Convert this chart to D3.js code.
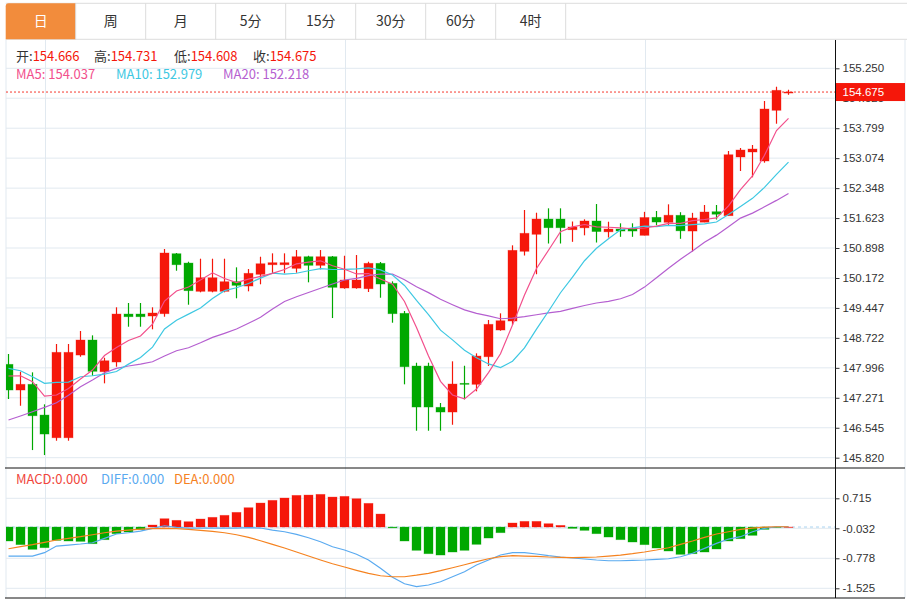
<!DOCTYPE html>
<html lang="zh">
<head>
<meta charset="UTF-8">
<title>日K</title>
<script src="https://d3js.org/d3.v7.min.js"></script>
<style>
  body { margin: 0; background: #fff; }
  svg { display: block; }
</style>
</head>
<body>
<div id="chart"></div>
<script>
// ---- data ----
const tabs = ["日", "周", "月", "5分", "15分", "30分", "60分", "4时"];

const opens = [148.081,147.459,147.597,146.853,146.303,146.303,148.306,148.670,147.902,148.137,
  149.299,149.299,149.251,149.307,150.760,150.534,149.849,149.849,149.849,150.082,
  149.977,150.261,150.493,150.493,150.406,150.687,150.479,150.687,149.929,149.929,
  149.912,150.527,150.043,149.316,148.040,148.040,147.040,146.926,147.621,147.597,
  148.265,148.912,149.130,150.818,151.230,151.600,151.600,151.341,151.387,151.552,
  151.290,151.358,151.358,151.205,151.641,151.520,151.690,151.309,151.523,151.777,
  151.680,153.102,153.223,153.005,154.233,154.666];
const highs = [148.331,147.902,147.887,147.112,148.573,148.573,148.888,148.783,148.241,149.462,
  149.566,149.566,149.462,150.874,150.777,150.566,150.639,150.639,150.639,150.430,
  150.389,150.687,150.769,150.769,150.849,150.711,150.849,150.704,150.711,150.728,
  150.566,150.559,150.091,149.372,148.120,148.120,147.144,148.154,148.047,148.347,
  149.154,149.316,150.963,151.818,151.753,151.859,151.859,151.540,151.593,151.963,
  151.535,151.496,151.496,151.774,151.794,151.956,151.765,151.750,151.939,151.939,
  153.247,153.320,153.392,154.458,154.804,154.731];
const lows = [147.241,147.078,146.005,145.884,146.231,146.231,148.265,147.805,147.621,148.023,
  148.992,148.992,148.929,149.234,150.348,149.525,149.825,149.825,149.825,149.680,
  149.849,150.019,150.285,150.285,150.300,150.067,150.382,149.202,149.912,149.912,
  149.832,149.694,149.089,147.597,146.473,146.473,146.473,146.618,147.233,147.427,
  148.040,148.895,149.033,150.716,150.263,151.007,151.007,151.048,151.205,151.031,
  151.152,151.169,151.169,151.205,151.448,151.443,151.121,150.813,151.523,151.588,
  151.680,152.763,152.610,152.964,153.908,154.608];
const closes = [147.459,147.597,146.836,146.393,148.372,148.372,148.670,147.912,148.168,149.299,
  149.234,149.234,149.324,150.777,150.493,149.864,150.178,150.178,150.082,149.994,
  150.285,150.517,150.542,150.542,150.687,150.479,150.687,149.946,150.123,150.123,
  150.527,150.026,149.307,148.023,147.047,147.047,146.926,147.604,147.597,148.282,
  149.050,149.137,150.842,151.254,151.600,151.389,151.389,151.406,151.552,151.297,
  151.358,151.309,151.309,151.636,151.527,151.692,151.314,151.624,151.770,151.716,
  153.157,153.271,153.295,154.264,154.717,154.675];

const ma5 = [147.798,147.805,147.660,147.313,147.338,147.495,147.727,147.943,148.294,148.488,
  148.657,148.766,149.052,149.614,149.856,149.953,150.123,150.297,150.159,150.060,
  150.145,150.212,150.285,150.377,150.515,150.554,150.588,150.469,150.384,150.270,
  150.280,150.149,150.021,149.602,148.972,148.282,147.669,147.338,147.243,147.483,
  147.882,148.338,149.033,149.759,150.401,150.844,151.295,151.409,151.467,151.409,
  151.401,151.385,151.365,151.382,151.428,151.496,151.496,151.559,151.588,151.627,
  151.917,152.310,152.642,153.143,153.741,154.037];
const ma10 = [147.984,147.926,147.781,147.621,147.645,147.652,147.781,147.805,147.846,147.907,
  148.086,148.248,148.498,148.936,149.149,149.297,149.447,149.675,149.866,149.936,
  150.040,150.169,150.290,150.268,150.287,150.348,150.399,150.377,150.379,150.394,
  150.418,150.367,150.244,149.992,149.629,149.285,148.909,148.674,148.423,148.238,
  148.091,148.001,148.156,148.478,148.934,149.367,149.815,150.195,150.590,150.893,
  151.123,151.341,151.387,151.426,151.418,151.448,151.440,151.462,151.484,151.527,
  151.707,151.903,152.101,152.365,152.683,152.979];
const ma20 = [146.732,146.829,146.933,147.040,147.151,147.330,147.539,147.701,147.878,147.984,
  148.040,148.088,148.144,148.282,148.410,148.483,148.604,148.735,148.832,148.936,
  149.074,149.219,149.420,149.602,149.718,149.822,149.924,150.026,150.123,150.164,
  150.229,150.268,150.268,150.130,149.958,149.818,149.655,149.525,149.401,149.316,
  149.253,149.185,149.200,149.236,149.282,149.326,149.362,149.435,149.505,149.566,
  149.607,149.670,149.772,149.951,150.176,150.409,150.626,150.828,151.038,151.210,
  151.414,151.622,151.743,151.896,152.051,152.218];

const macdBars = [-0.348,-0.438,-0.555,-0.514,-0.332,-0.348,-0.357,-0.415,-0.315,-0.166,
  -0.124,-0.066,0.050,0.207,0.166,0.133,0.199,0.241,0.291,0.365,
  0.481,0.597,0.664,0.722,0.788,0.796,0.813,0.746,0.763,0.705,
  0.589,0.323,-0.020,-0.348,-0.580,-0.664,-0.697,-0.622,-0.580,-0.431,
  -0.274,-0.141,0.100,0.141,0.141,0.083,0.041,-0.033,-0.083,-0.166,
  -0.249,-0.315,-0.373,-0.439,-0.523,-0.597,-0.680,-0.664,-0.622,-0.547,
  -0.348,-0.290,-0.207,-0.058,-0.010,0.000];
const diffLine = [-0.722,-0.722,-0.722,-0.639,-0.473,-0.448,-0.423,-0.391,-0.281,-0.174,
  -0.142,-0.100,-0.032,0.032,-0.007,-0.025,-0.025,-0.025,-0.025,-0.025,
  -0.017,-0.025,-0.075,-0.117,-0.182,-0.266,-0.366,-0.490,-0.572,-0.679,
  -0.821,-1.028,-1.252,-1.413,-1.485,-1.443,-1.361,-1.237,-1.112,-0.946,
  -0.821,-0.697,-0.639,-0.639,-0.672,-0.714,-0.746,-0.771,-0.796,-0.821,
  -0.839,-0.839,-0.829,-0.821,-0.804,-0.789,-0.739,-0.654,-0.530,-0.406,
  -0.299,-0.241,-0.117,-0.032,0.007,0.007];
const deaLine = [-0.540,-0.490,-0.440,-0.381,-0.323,-0.281,-0.241,-0.192,-0.142,-0.100,
  -0.075,-0.050,-0.042,-0.032,-0.042,-0.057,-0.082,-0.107,-0.142,-0.192,
  -0.256,-0.341,-0.430,-0.523,-0.622,-0.722,-0.821,-0.913,-0.995,-1.077,
  -1.152,-1.212,-1.237,-1.237,-1.199,-1.152,-1.087,-1.013,-0.938,-0.863,
  -0.789,-0.739,-0.714,-0.722,-0.729,-0.746,-0.754,-0.764,-0.754,-0.746,
  -0.722,-0.697,-0.664,-0.622,-0.572,-0.515,-0.430,-0.348,-0.256,-0.174,
  -0.117,-0.057,-0.025,0.000,0.007,0.007];
const macdLegend = [0, 0, 0];

const priceTicks = ["145.820","146.545","147.271","147.996","148.722","149.447","150.172",
  "150.898","151.623","152.348","153.074","153.799","154.525","155.250"];
const macdTicks = ["0.715","-0.032","-0.778","-1.525"];
const gridCandles = [3, 28, 53];

// ---- layout ----
const W = 908, H = 600;
const left = 6, axisX = 835, rightEdge = 905;
const mainTop = 40, mainBottom = 468, subBottom = 598;
const UP = "#f5170a", DOWN = "#00a800";
const GRID = "#e1e9f0";
const CJK = "'Noto Sans CJK SC', 'Noto Sans', sans-serif";
const NUM = "'Liberation Sans', Arial, sans-serif";

const N = closes.length;
const x = d3.scaleLinear().domain([0, N - 1]).range([8.5, 788.5]);
const y = d3.scaleLinear().domain([+priceTicks[0], +priceTicks[priceTicks.length - 1]]).range([457.7, 68.3]);
const ym = d3.scaleLinear().domain([+macdTicks[3], +macdTicks[0]]).range([588.3, 498.3]);
const bodyW = 9;

const svg = d3.select("#chart").append("svg").attr("width", W).attr("height", H);
const defs = svg.append("defs");
defs.append("clipPath").attr("id", "clipMain").append("rect")
  .attr("x", left).attr("y", mainTop).attr("width", axisX - left).attr("height", mainBottom - mainTop);
defs.append("clipPath").attr("id", "clipSub").append("rect")
  .attr("x", left).attr("y", mainBottom).attr("width", axisX - left).attr("height", subBottom - mainBottom);

// ---- tab bar ----
const tabX = 5.7, tabW = 70, tabTop = 3.3, tabBottom = 39.3;
const tabG = svg.append("g");
tabG.append("line").attr("x1", tabX).attr("x2", W - 1).attr("y1", tabTop).attr("y2", tabTop).attr("stroke", "#dcdcdc");
tabG.append("line").attr("x1", tabX).attr("x2", W - 1).attr("y1", tabBottom).attr("y2", tabBottom).attr("stroke", "#dcdcdc");
tabs.forEach((t, k) => {
  const x0 = tabX + k * tabW;
  if (k === 0) {
    tabG.append("path")
      .attr("d", `M${x0},${tabBottom} V${tabTop + 3} Q${x0},${tabTop} ${x0 + 3},${tabTop} H${x0 + tabW} V${tabBottom} Z`)
      .attr("fill", "#f28c3c");
  }
  tabG.append("line").attr("x1", x0 + tabW).attr("x2", x0 + tabW).attr("y1", tabTop).attr("y2", tabBottom).attr("stroke", "#dcdcdc");
  tabG.append("text").attr("x", x0 + tabW / 2).attr("y", 26)
    .attr("text-anchor", "middle").attr("font-family", CJK).attr("font-size", 14)
    .attr("fill", k === 0 ? "#fff" : "#333").text(t);
});

// ---- grids ----
const grid = svg.append("g");
grid.append("line").attr("x1", left).attr("x2", left).attr("y1", mainTop).attr("y2", subBottom).attr("stroke", GRID);
grid.append("line").attr("x1", rightEdge).attr("x2", rightEdge).attr("y1", mainTop).attr("y2", subBottom).attr("stroke", GRID);
grid.selectAll(".hg").data(priceTicks).join("line")
  .attr("x1", left).attr("x2", axisX).attr("y1", d => y(+d)).attr("y2", d => y(+d)).attr("stroke", GRID);
grid.selectAll(".mg").data(macdTicks).join("line")
  .attr("x1", left).attr("x2", axisX).attr("y1", d => ym(+d)).attr("y2", d => ym(+d)).attr("stroke", GRID);
grid.selectAll(".vg").data(gridCandles).join("line")
  .attr("x1", d => Math.round(x(d)) + 0.5).attr("x2", d => Math.round(x(d)) + 0.5)
  .attr("y1", mainTop).attr("y2", subBottom).attr("stroke", GRID);

// ---- candles ----
const candles = d3.range(N).map(i => ({ i, o: opens[i], h: highs[i], l: lows[i], c: closes[i] }));
const cg = svg.append("g").attr("clip-path", "url(#clipMain)");
const col = d => d.c >= d.o ? UP : DOWN;
cg.selectAll(".wick").data(candles).join("line")
  .attr("x1", d => x(d.i)).attr("x2", d => x(d.i))
  .attr("y1", d => y(d.h)).attr("y2", d => y(d.l))
  .attr("stroke", col).attr("stroke-width", 1.2);
cg.selectAll(".body").data(candles).join("rect")
  .attr("x", d => x(d.i) - bodyW / 2).attr("width", bodyW)
  .attr("y", d => y(Math.max(d.o, d.c)))
  .attr("height", d => Math.max(1, Math.abs(y(d.o) - y(d.c))))
  .attr("fill", col).attr("stroke", col).attr("stroke-opacity", 0.45).attr("stroke-width", 0.8);

// ---- moving averages ----
const line = d3.line().x((d, i) => x(i)).y(d => y(d));
[[ma20, "#b55fd0"], [ma10, "#3ec8e2"], [ma5, "#f2508c"]].forEach(([s, c]) => {
  cg.append("path").datum(s).attr("d", line).attr("fill", "none").attr("stroke", c).attr("stroke-width", 1.2);
});

// ---- current price line ----
const last = N - 1;
svg.append("line").attr("x1", left).attr("x2", axisX)
  .attr("y1", y(closes[last])).attr("y2", y(closes[last]))
  .attr("stroke", UP).attr("stroke-width", 1).attr("stroke-dasharray", "2,2").attr("opacity", 0.85);

// ---- MACD panel ----
const sg = svg.append("g").attr("clip-path", "url(#clipSub)");
sg.append("line").attr("x1", left).attr("x2", axisX).attr("y1", ym(0)).attr("y2", ym(0))
  .attr("stroke", "#a9d3f0").attr("stroke-dasharray", "3,3");
sg.selectAll(".bar").data(macdBars).join("rect")
  .attr("x", (d, i) => x(i) - bodyW / 2).attr("width", bodyW)
  .attr("y", d => ym(Math.max(0, d)))
  .attr("height", d => Math.max(0.5, Math.abs(ym(d) - ym(0))))
  .attr("fill", d => d >= 0 ? UP : DOWN)
  .attr("stroke", d => d >= 0 ? UP : DOWN).attr("stroke-opacity", 0.4).attr("stroke-width", 0.8);
const mline = d3.line().x((d, i) => x(i)).y(d => ym(d));
sg.append("path").datum(diffLine).attr("d", mline).attr("fill", "none").attr("stroke", "#5aaaf0").attr("stroke-width", 1.2);
sg.append("path").datum(deaLine).attr("d", mline).attr("fill", "none").attr("stroke", "#f5821f").attr("stroke-width", 1.2);

// ---- panel borders ----
svg.append("line").attr("x1", left - 1).attr("x2", rightEdge).attr("y1", mainBottom).attr("y2", mainBottom).attr("stroke", "#111");
svg.append("line").attr("x1", left - 1).attr("x2", rightEdge).attr("y1", subBottom).attr("y2", subBottom).attr("stroke", "#111");
svg.append("line").attr("x1", axisX + 0.5).attr("x2", axisX + 0.5).attr("y1", mainTop).attr("y2", subBottom).attr("stroke", "#111");

// ---- right axes ----
const axisMain = d3.axisRight(y).tickValues(priceTicks.map(Number))
  .tickFormat((d, i) => priceTicks[i]).tickSize(4).tickPadding(3);
const axisSub = d3.axisRight(ym).tickValues(macdTicks.map(Number))
  .tickFormat((d, i) => macdTicks[i]).tickSize(4).tickPadding(3);
[[axisMain], [axisSub]].forEach(([ax]) => {
  const g = svg.append("g").attr("transform", `translate(${axisX + 0.5},0)`).call(ax);
  g.select(".domain").remove();
  g.selectAll(".tick line").attr("stroke", "#333");
  g.selectAll(".tick text").attr("font-family", NUM).attr("font-size", 11.5).attr("fill", "#333");
});

// last price tag
const tagY = y(closes[last]);
svg.append("rect").attr("x", axisX + 1).attr("y", tagY - 9).attr("width", rightEdge - axisX - 1).attr("height", 18).attr("fill", UP);
svg.append("text").attr("x", axisX + 7.5).attr("y", tagY + 4.2)
  .attr("font-family", NUM).attr("font-size", 11.5).attr("fill", "#fff").text(closes[last].toFixed(3));

// ---- legends ----
const legend = (items, yy) => {
  items.forEach(it => {
    const t = svg.append("text").attr("x", it.x).attr("y", yy).attr("font-family", CJK).attr("font-size", 13);
    t.append("tspan").attr("fill", it.lc).text(it.label);
    t.append("tspan").attr("fill", it.vc).text(it.value);
  });
};
legend([
  { x: 16, label: "开:", value: opens[last].toFixed(3), lc: "#333", vc: UP },
  { x: 94, label: "高:", value: highs[last].toFixed(3), lc: "#333", vc: UP },
  { x: 174, label: "低:", value: lows[last].toFixed(3), lc: "#333", vc: UP },
  { x: 253, label: "收:", value: closes[last].toFixed(3), lc: "#333", vc: UP }
], 61);
legend([
  { x: 16, label: "MA5: ", value: ma5[last].toFixed(3), lc: "#f2508c", vc: "#f2508c" },
  { x: 116, label: "MA10: ", value: ma10[last].toFixed(3), lc: "#3ec8e2", vc: "#3ec8e2" },
  { x: 223, label: "MA20: ", value: ma20[last].toFixed(3), lc: "#b55fd0", vc: "#b55fd0" }
], 78.5);
legend([
  { x: 16, label: "MACD:", value: macdLegend[0].toFixed(3), lc: "#f0463c", vc: "#f0463c" },
  { x: 101, label: "DIFF:", value: macdLegend[1].toFixed(3), lc: "#5aaaf0", vc: "#5aaaf0" },
  { x: 174, label: "DEA:", value: macdLegend[2].toFixed(3), lc: "#f5821f", vc: "#f5821f" }
], 484);
</script>
</body>
</html>
